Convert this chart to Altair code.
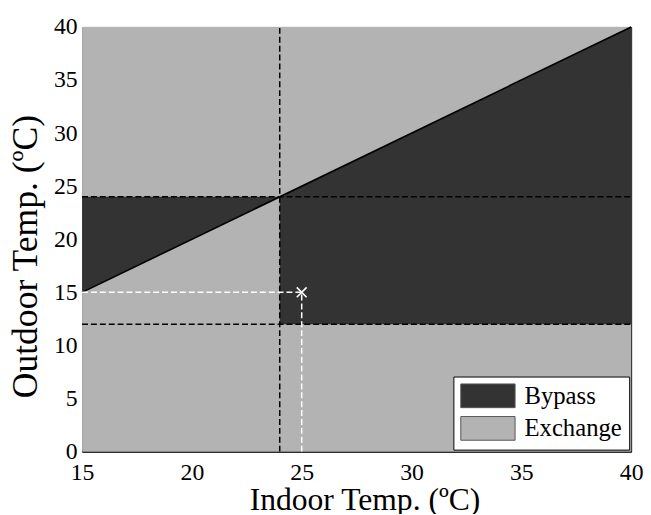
import altair as alt
import pandas as pd

# ---- data ----
x_ticks = [15, 20, 25, 30, 35, 40]
y_ticks = [0, 5, 10, 15, 20, 25, 30, 35, 40]

# Bypass regions (area between lo and hi)
region_x = [15, 24, 24, 40]
region_lo = [15, 24, 12, 12]
region_hi = [24, 24, 24, 40]
region_id = ["A", "A", "B", "B"]

# whole domain background (Exchange)
bg_x, bg_x2, bg_y, bg_y2 = [15], [40], [0], [40]

# diagonal switching line
diag_x = [15, 40]
diag_y = [15, 40]

# black dashed threshold lines
blk_x = [24, 15, 15]
blk_x2 = [24, 40, 40]
blk_y = [0, 24, 12]
blk_y2 = [40, 24, 12]

# white dashed operating point guides
wht_x = [15, 25]
wht_x2 = [25, 25]
wht_y = [15, 0]
wht_y2 = [15, 15]

op_x = [25]
op_y = [15]

modes = ["Bypass", "Exchange"]
mode_colors = ["#333333", "#b3b3b3"]

FONT = "Liberation Serif"

xs = alt.Scale(domain=[15, 40], nice=False, zero=False)
ys = alt.Scale(domain=[0, 40], nice=False, zero=False)
cs = alt.Scale(domain=modes, range=mode_colors)

legend = alt.Legend(
    title=None,
    orient="none",
    legendX=376,
    legendY=354,
    fillColor="white",
    strokeColor="black",
    padding=7,
    labelFont=FONT,
    labelFontSize=25,
    labelColor="black",
    labelOffset=40,
    symbolType="M-1,-1H3.58V1H-1Z",
    symbolSize=576,
    symbolStrokeColor="#555555",
    symbolStrokeWidth=1,
    symbolOpacity=1,
    rowPadding=4,
)

x_axis = alt.Axis(
    values=x_ticks, title="Indoor Temp. (ºC)", labelPadding=9, tickSize=0,
    titleFontSize=32, titleX=286, titleY=59, titleBaseline="alphabetic",
    labelOverlap=False, labelBound=False, labelFlush=False,
)
y_axis = alt.Axis(
    values=y_ticks, title="Outdoor Temp. (ºC)", labelPadding=5, tickSize=0,
    titleFontSize=36, titleX=-46, titleY=232, titleAngle=-90,
    titleBaseline="alphabetic", labelOverlap=False, labelBound=False,
    labelFlush=False,
)

bg_df = pd.DataFrame({"x": bg_x, "x2": bg_x2, "y": bg_y, "y2": bg_y2, "mode": ["Exchange"]})
bg = alt.Chart(bg_df).mark_rect(opacity=1).encode(
    x=alt.X("x:Q", scale=xs, axis=x_axis),
    x2="x2",
    y=alt.Y("y:Q", scale=ys, axis=y_axis),
    y2="y2",
    color=alt.Color("mode:N", scale=cs, legend=legend),
)

reg_df = pd.DataFrame({"x": region_x, "lo": region_lo, "hi": region_hi,
                       "region": region_id, "mode": ["Bypass"] * len(region_x)})
areas = alt.Chart(reg_df).mark_area(opacity=1, interpolate="linear").encode(
    x=alt.X("x:Q", scale=xs),
    y=alt.Y("lo:Q", scale=ys, stack=None),
    y2="hi",
    detail="region:N",
    color=alt.Color("mode:N", scale=cs, legend=legend),
)

diag_df = pd.DataFrame({"x": diag_x, "y": diag_y})
diag = alt.Chart(diag_df).mark_line(color="black", strokeWidth=1.6).encode(
    x=alt.X("x:Q", scale=xs), y=alt.Y("y:Q", scale=ys)
)

blk_df = pd.DataFrame({"x": blk_x, "x2": blk_x2, "y": blk_y, "y2": blk_y2})
blk = alt.Chart(blk_df).mark_rule(color="black", strokeWidth=1.5, strokeDash=[6, 3]).encode(
    x=alt.X("x:Q", scale=xs), x2="x2", y=alt.Y("y:Q", scale=ys), y2="y2"
)

wht_df = pd.DataFrame({"x": wht_x, "x2": wht_x2, "y": wht_y, "y2": wht_y2})
wht = alt.Chart(wht_df).mark_rule(color="white", strokeWidth=1.5, strokeDash=[6, 3]).encode(
    x=alt.X("x:Q", scale=xs), x2="x2", y=alt.Y("y:Q", scale=ys), y2="y2"
)

op_df = pd.DataFrame({"x": op_x, "y": op_y})
op = alt.Chart(op_df).mark_point(
    shape="M-1,-1L1,1M-1,1L1,-1", size=100, color="white", strokeWidth=1.6,
    filled=False, opacity=1,
).encode(x=alt.X("x:Q", scale=xs), y=alt.Y("y:Q", scale=ys))

chart = alt.layer(bg, areas, diag, blk, wht, op).properties(
    width=556,
    height=430,
    autosize=alt.AutoSizeParams(type="none"),
    padding={"left": 75, "top": 16, "right": 12, "bottom": 60},
).configure_view(
    stroke="black", strokeWidth=1
).configure_axis(
    labelFont=FONT, labelFontSize=24, labelColor="black",
    titleFont=FONT, titleFontWeight="normal", titleColor="black",
    domainColor="black", grid=False,
)

chart.save("out.html", embed_options={"renderer": "svg", "actions": False})
